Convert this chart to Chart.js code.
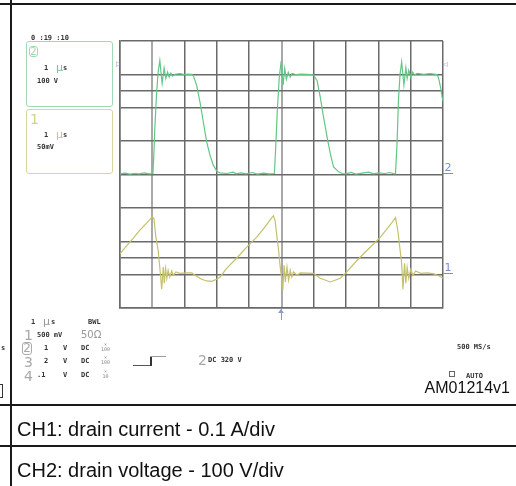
<!DOCTYPE html>
<html>
<head>
<meta charset="utf-8">
<script src="https://cdn.jsdelivr.net/npm/chart.js@4/dist/chart.umd.min.js"></script>
<style>
  body { margin: 0; background: #fff; }
  #wrap { position: relative; width: 516px; height: 486px; overflow: hidden; font-family: "DejaVu Sans Mono", monospace; }
  #scope { position: absolute; left: 0; top: 0; }
  .t { position: absolute; font-size: 7px; font-weight: bold; line-height: 7px; color: #333; white-space: pre; }
  .big { position: absolute; font-family: "DejaVu Sans", sans-serif; font-size: 14px; line-height: 14px; color: #a8a8a8; }
  .mu { position: absolute; font-family: "DejaVu Sans", sans-serif; font-size: 11px; line-height: 11px; }
  .x { position: absolute; font-size: 5px; line-height: 5px; color: #888; text-align: center; width: 11px; }
  .hl { position: absolute; left: 0; width: 516px; height: 2px; background: #1a1a1a; }
  .vl { position: absolute; left: 10px; top: 0; width: 2px; height: 486px; background: #1a1a1a; }
  .box { position: absolute; left: 26px; width: 87px; border-radius: 3px; box-sizing: border-box; }
  .cap { position: absolute; left: 17px; font-family: "Liberation Sans", Arial, sans-serif; font-size: 20px; line-height: 20px; color: #111; white-space: pre; }
  .mk { position: absolute; font-family: "DejaVu Sans", sans-serif; color: #7b8dcc; }
</style>
</head>
<body>
<div id="wrap">
  <canvas id="scope" width="516" height="486"></canvas>

  <!-- table lines -->
  <div class="hl" style="top:3px"></div>
  <div class="hl" style="top:404px"></div>
  <div class="hl" style="top:445px"></div>
  <div class="vl"></div>

  <!-- channel boxes -->
  <div class="t" style="left:31px;top:35px">0 :19 :10</div>
  <div class="box" style="top:41px;height:66px;border:1px solid #9fdab3"></div>
  <div style="position:absolute;left:29px;top:46px;width:9px;height:11px;border:1px solid #9fdab3;border-radius:3px;box-sizing:border-box;font:10px/9px 'DejaVu Sans',sans-serif;color:#9fdab3;text-align:center">2</div>
  <div class="t" style="left:44px;top:65px">1</div>
  <div class="mu" style="left:56px;top:62px;color:#6cc98b">µ</div>
  <div class="t" style="left:63px;top:65px">s</div>
  <div class="t" style="left:37px;top:78px">100 V</div>

  <div class="box" style="top:109px;height:65px;border:1px solid #d8d69c"></div>
  <div class="big" style="left:30px;top:112px;color:#d4d18e">1</div>
  <div class="t" style="left:44px;top:132px">1</div>
  <div class="mu" style="left:56px;top:129px;color:#c9c67a">µ</div>
  <div class="t" style="left:63px;top:132px">s</div>
  <div class="t" style="left:37px;top:144px">50mV</div>

  <!-- grid markers -->
  <div class="mk" style="left:116px;top:61px;font-size:7px;line-height:7px">▷</div>
  <div class="mk" style="left:443px;top:61px;font-size:6px;line-height:6px">◁</div>
  <div class="mk" style="left:443px;top:162px;width:10px;font-size:11px;line-height:11px;border-bottom:1px solid #7b8dcc;text-align:center">2</div>
  <div class="mk" style="left:443px;top:262px;width:10px;font-size:11px;line-height:11px;border-bottom:1px solid #7b8dcc;text-align:center">1</div>
  <div style="position:absolute;left:281px;top:309px;width:1px;height:11px;background:#8b9bd0"></div>
  <div style="position:absolute;left:278px;top:309px;width:0;height:0;border-left:3px solid transparent;border-right:3px solid transparent;border-bottom:4px solid #8b9bd0"></div>

  <!-- bottom settings -->
  <div class="t" style="left:1px;top:345px">s</div>
  <div style="position:absolute;left:0;top:384px;width:2px;height:12px;border-right:1px solid #333;border-top:1px solid #333;border-bottom:1px solid #333"></div>
  <div class="t" style="left:31px;top:319px">1</div>
  <div class="mu" style="left:43px;top:316px;color:#999">µ</div>
  <div class="t" style="left:51px;top:319px">s</div>
  <div class="t" style="left:88px;top:319px">BWL</div>

  <div class="big" style="left:24px;top:328px">1</div>
  <div class="t" style="left:37px;top:332px">500 mV</div>
  <div class="mu" style="left:81px;top:329px;font-size:10px;color:#999">50Ω</div>

  <div style="position:absolute;left:22px;top:342px;width:10px;height:13px;border:1px solid #aaa;border-radius:3px;box-sizing:border-box;font:12px/11px 'DejaVu Sans',sans-serif;color:#aaa;text-align:center">2</div>
  <div class="t" style="left:44px;top:345px">1</div>
  <div class="t" style="left:63px;top:345px">V</div>
  <div class="t" style="left:81px;top:345px">DC</div>
  <div class="x" style="left:100px;top:342px">×<br>100</div>

  <div class="big" style="left:24px;top:355px">3</div>
  <div class="t" style="left:44px;top:358px">2</div>
  <div class="t" style="left:63px;top:358px">V</div>
  <div class="t" style="left:81px;top:358px">DC</div>
  <div class="x" style="left:100px;top:355px">×<br>100</div>

  <div class="big" style="left:24px;top:369px">4</div>
  <div class="t" style="left:37px;top:372px">.1</div>
  <div class="t" style="left:63px;top:372px">V</div>
  <div class="t" style="left:81px;top:372px">DC</div>
  <div class="x" style="left:100px;top:369px">×<br>10</div>

  <div style="position:absolute;left:133px;top:365px;width:17px;border-top:1px solid #555"></div>
  <div style="position:absolute;left:150px;top:356px;height:10px;border-left:2px solid #333"></div>
  <div style="position:absolute;left:150px;top:356px;width:16px;border-top:1px solid #999"></div>

  <div class="big" style="left:198px;top:353px">2</div>
  <div class="t" style="left:208px;top:357px">DC 320 V</div>

  <div class="t" style="left:457px;top:344px">500 MS/s</div>
  <div style="position:absolute;left:449px;top:371px;width:6px;height:6px;border:1px solid #666;box-sizing:border-box"></div>
  <div class="t" style="left:466px;top:373px">AUTO</div>
  <div class="cap" style="left:auto;right:6px;top:380px;font-size:16px;line-height:16px">AM01214v1</div>

  <div class="cap" style="top:419px">CH1: drain current - 0.1 A/div</div>
  <div class="cap" style="top:460px">CH2: drain voltage - 100 V/div</div>
</div>

<script>
// CH2 - drain voltage (time in µs, volts)
const ch2Time = [0, 0.15, 0.3, 0.45, 0.6, 0.75, 0.9, 1.02, 1.047, 1.078, 1.13, 1.18, 1.233, 1.304, 1.366, 1.419, 1.472, 1.522, 1.575, 1.627, 1.7, 1.85, 2.0, 2.1, 2.217, 2.267, 2.373, 2.475, 2.578, 2.683, 2.786, 2.888, 2.994, 3.096, 3.3, 3.5, 3.6, 3.75, 3.9, 4.1, 4.25, 4.45, 4.6, 4.78, 4.82, 4.87, 4.93, 4.99, 5.05, 5.10, 5.15, 5.21, 5.27, 5.33, 5.45, 5.6, 5.8, 5.98, 6.10, 6.20, 6.30, 6.41, 6.51, 6.61, 6.77, 6.88, 7.0, 7.15, 7.3, 7.5, 7.7, 7.85, 8.0, 8.2, 8.35, 8.5, 8.53, 8.58, 8.62, 8.67, 8.72, 8.79, 8.85, 8.89, 8.94, 9.0, 9.06, 9.12, 9.2, 9.4, 9.6, 9.77, 9.83, 9.88, 9.93, 9.98, 10];
const ch2Volts = [2, 4, 1, 3, 2, 5, 2, 3, 58, 138, 238, 307, 342, 273, 319, 288, 307, 292, 304, 295, 300, 302, 299, 301, 300, 297, 267, 218, 158, 98, 58, 28, 10, 5, 3, 7, 2, 5, 2, 6, 1, 4, 2, 3, 80, 190, 290, 340, 268, 318, 285, 306, 292, 303, 299, 301, 300, 299, 282, 232, 173, 113, 63, 23, 8, 3, 2, 6, 1, 4, 7, 2, 5, 3, 6, 2, 3, 100, 220, 300, 337, 268, 320, 288, 312, 292, 307, 298, 303, 300, 302, 300, 298, 282, 258, 228, 220];

// CH1 - drain current (time in µs, amps)
const ch1Time = [0, 0.2, 0.4, 0.6, 0.8, 0.95, 1.0, 1.05, 1.11, 1.18, 1.23, 1.26, 1.29, 1.34, 1.37, 1.41, 1.45, 1.49, 1.54, 1.60, 1.65, 1.73, 1.85, 2.06, 2.22, 2.37, 2.53, 2.68, 2.84, 2.99, 3.10, 3.30, 3.61, 3.93, 4.24, 4.49, 4.70, 4.75, 4.80, 4.86, 4.91, 4.96, 5.01, 5.04, 5.08, 5.12, 5.17, 5.22, 5.27, 5.32, 5.37, 5.48, 5.58, 5.99, 6.20, 6.51, 6.82, 6.98, 7.34, 7.65, 8.07, 8.38, 8.53, 8.60, 8.66, 8.72, 8.76, 8.81, 8.85, 8.89, 8.94, 9.0, 9.07, 9.15, 9.31, 9.52, 9.72, 9.88, 10];
const ch1Amps = [0.062, 0.086, 0.108, 0.132, 0.152, 0.168, 0.173, 0.168, 0.113, 0.073, 0.023, -0.007, -0.044, 0.023, -0.026, 0.019, -0.011, 0.013, -0.007, 0.011, -0.002, 0.008, 0.004, 0.005, 0.005, -0.005, -0.014, -0.019, -0.020, -0.014, -0.007, 0.019, 0.049, 0.083, 0.113, 0.143, 0.171, 0.176, 0.163, 0.113, 0.073, 0.023, -0.016, -0.046, 0.028, -0.022, 0.023, -0.016, 0.013, -0.007, 0.008, -0.002, 0.005, 0.004, -0.011, -0.022, -0.011, 0.004, 0.043, 0.073, 0.113, 0.151, 0.171, 0.133, 0.083, 0.034, -0.044, 0.034, -0.026, 0.022, -0.011, 0.016, -0.002, 0.011, 0.004, 0.005, 0.002, -0.004, -0.011];

// grid: 10 time divisions, 8 vertical divisions + the two cursor lines
const timeDivs = [0, 1, 2, 3, 4, 5, 6, 7, 8, 9, 10];
const voltRows = [-400, -300, -250, -200, -100, 0, 100, 200, 250, 300, 400];

const ch2Points = ch2Time.map((t, i) => ({ x: t, y: ch2Volts[i] }));
const ch1Points = ch1Time.map((t, i) => ({ x: t, y: ch1Amps[i] }));

const gridDark = '#6a6a6a';

new Chart(document.getElementById('scope'), {
    type: 'line',
    data: {
        datasets: [
            { label: 'CH2', data: ch2Points, yAxisID: 'y', borderColor: '#62c785', borderWidth: 1.2, pointRadius: 0, tension: 0 },
            { label: 'CH1', data: ch1Points, yAxisID: 'y1', borderColor: '#c4c16c', borderWidth: 1.2, pointRadius: 0, tension: 0 }
        ]
    },
    options: {
        responsive: false,
        animation: false,
        layout: { padding: { left: 120, top: 41, right: 73, bottom: 178 } },
        plugins: { legend: { display: false }, tooltip: { enabled: false } },
        scales: {
            x: {
                type: 'linear', min: 0, max: 10,
                afterBuildTicks: (axis) => { axis.ticks = timeDivs.map(v => ({ value: v })); },
                ticks: { display: false },
                grid: {
                    drawTicks: false,
                    lineWidth: (ctx) => (ctx.tick && (ctx.tick.value === 1 || ctx.tick.value === 5)) ? 2 : 1.5,
                    color: (ctx) => (ctx.tick && (ctx.tick.value === 1 || ctx.tick.value === 5)) ? '#a9a9a9' : gridDark
                },
                border: { color: gridDark, width: 1.5 }
            },
            y: {
                min: -400, max: 400,
                afterBuildTicks: (axis) => { axis.ticks = voltRows.map(v => ({ value: v })); },
                ticks: { display: false },
                grid: { drawTicks: false, color: gridDark, lineWidth: 1.5 },
                border: { color: gridDark, width: 1.5 }
            },
            y1: { display: false, min: -0.1, max: 0.7 }
        }
    }
});
</script>
</body>
</html>
